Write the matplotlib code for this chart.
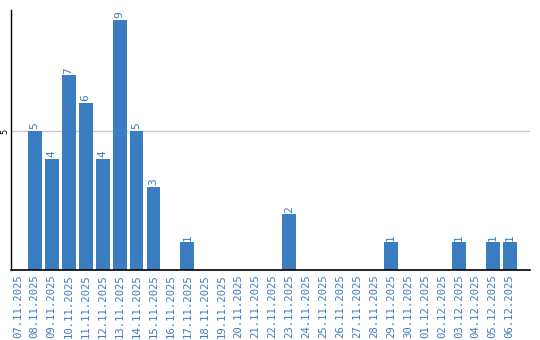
import numpy as np
import matplotlib.pyplot as plt

dates = ["07.11.2025", "08.11.2025", "09.11.2025", "10.11.2025", "11.11.2025",
         "12.11.2025", "13.11.2025", "14.11.2025", "15.11.2025", "16.11.2025",
         "17.11.2025", "18.11.2025", "19.11.2025", "20.11.2025", "21.11.2025",
         "22.11.2025", "23.11.2025", "24.11.2025", "25.11.2025", "26.11.2025",
         "27.11.2025", "28.11.2025", "29.11.2025", "30.11.2025", "01.12.2025",
         "02.12.2025", "03.12.2025", "04.12.2025", "05.12.2025", "06.12.2025"]
counts = [0, 5, 4, 7, 6, 4, 9, 5, 3, 0,
          1, 0, 0, 0, 0, 0, 2, 0, 0, 0,
          0, 0, 1, 0, 0, 0, 1, 0, 1, 1]

blue = '#3b7dc1'
fig = plt.figure(figsize=(5.4, 3.4), dpi=100)
ax = fig.add_axes([11/540, 70/340, 519/540, 260/340])

x = np.arange(len(dates))
ax.bar(x, counts, width=0.82, color=blue, zorder=2)
for xi, c in zip(x, counts):
    if c > 0:
        ax.text(xi, c + 0.06, str(c), rotation=90, ha='center', va='bottom',
                color=blue, fontsize=8, family='DejaVu Sans Mono')

ax.set_xlim(-0.4, 30.2)
ax.set_ylim(0, 9.35)
ax.set_yticks([5])
ax.set_yticklabels(['5'], rotation=90, va='center', fontsize=6)
ax.axhline(5, color='#c8c8c8', lw=1, zorder=1)
ax.set_xticks(x)
ax.set_xticklabels(dates, rotation=90, color=blue, fontsize=7.7,
                   family='DejaVu Sans Mono')
ax.tick_params(axis='x', length=0, pad=3)
ax.tick_params(axis='y', length=0, pad=1)
ax.spines['top'].set_visible(False)
ax.spines['right'].set_visible(False)
ax.spines['left'].set_linewidth(1)
ax.spines['bottom'].set_linewidth(1.2)

fig.savefig('out.png', dpi=100)
